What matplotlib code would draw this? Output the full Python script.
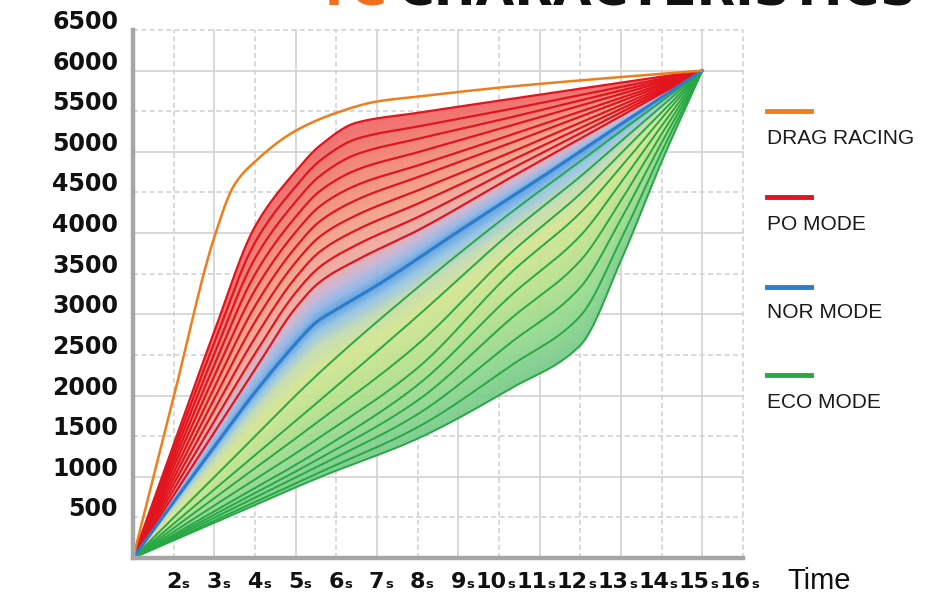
import numpy as np
import matplotlib
matplotlib.use("Agg")
import matplotlib.pyplot as plt
from matplotlib.lines import Line2D
from matplotlib.transforms import ScaledTranslation
from matplotlib.colors import LinearSegmentedColormap

# ---- data (x in seconds, y = output value) ----
Y_TICKS = [500, 1000, 1500, 2000, 2500, 3000, 3500, 4000, 4500, 5000, 5500, 6000, 6500]
X_TICKS = [2, 3, 4, 5, 6, 7, 8, 9, 10, 11, 12, 13, 14, 15, 16]

DRAG_X = [1, 2, 3, 3.5, 4, 5, 6, 7, 8, 10, 12, 15]
DRAG_Y = [0, 1980, 3950, 4600, 4880, 5260, 5480, 5620, 5680, 5790, 5880, 6000]

# PO mode lines, top (first) to bottom
PO_X = [1, 2, 3, 4, 5, 5.6, 6.5, 8, 10.3, 12, 15]
PO_LINES = [
    [0, 1395, 2790, 4080, 4760, 5078, 5360, 5480, 5652, 5778, 6000],
    [0, 1326, 2652, 3884, 4573, 4892, 5160, 5312, 5529, 5700, 6000],
    [0, 1257, 2514, 3689, 4387, 4705, 4971, 5160, 5426, 5634, 6000],
    [0, 1188, 2377, 3493, 4200, 4519, 4778, 4995, 5324, 5569, 6000],
    [0, 1120, 2239, 3298, 4013, 4332, 4590, 4832, 5210, 5497, 6000],
    [0, 1051, 2101, 3102, 3827, 4146, 4409, 4688, 5111, 5434, 6000],
    [0, 982, 1963, 2907, 3640, 3959, 4221, 4525, 4996, 5360, 6000],
    [0, 913, 1826, 2711, 3453, 3773, 4039, 4361, 4893, 5294, 6000],
    [0, 844, 1688, 2516, 3267, 3586, 3855, 4196, 4791, 5229, 6000],
    [0, 775, 1550, 2320, 3080, 3400, 3667, 4033, 4688, 5163, 6000],
]

NOR_X = [1, 2, 3, 4, 5, 5.5, 6, 7, 9, 11, 13, 15]
NOR_Y = [0, 690, 1370, 2040, 2640, 2900, 3060, 3357, 4020, 4672, 5342, 6000]

# ECO mode lines, top (first) to bottom
ECO_X = [1, 3, 5.6, 8, 10.3, 12, 13, 14, 15]
ECO_LINES = [
    [0, 995, 2287, 3330, 4255, 4885, 5259, 5623, 6000],
    [0, 845, 1943, 2980, 4010, 4697, 5131, 5561, 6000],
    [0, 738, 1697, 2630, 3760, 4484, 4983, 5487, 6000],
    [0, 647, 1488, 2340, 3515, 4250, 4815, 5414, 6000],
    [0, 577, 1328, 2130, 3235, 3967, 4623, 5320, 6000],
    [0, 535, 1230, 1940, 2950, 3660, 4401, 5221, 6000],
    [0, 497, 1143, 1770, 2655, 3332, 4172, 5115, 6000],
    [0, 460, 1057, 1610, 2370, 2979, 3922, 5000, 6000],
    [0, 433, 996, 1470, 2090, 2619, 3664, 4881, 6000],
]

LEGEND = ["DRAG RACING", "PO MODE", "NOR MODE", "ECO MODE"]
C_ORANGE = "#f07d1a"
C_RED = "#e2141e"
C_BLUE = "#2c7ccc"
C_GREEN = "#27a844"


def pchip(x, y, xn):
    """monotone cubic through the read points (just for smooth drawing)"""
    x = np.asarray(x, float)
    y = np.asarray(y, float)
    h = np.diff(x)
    d = np.diff(y) / h
    m = np.zeros_like(y)
    for i in range(1, len(x) - 1):
        if d[i - 1] * d[i] > 0:
            w1 = 2 * h[i] + h[i - 1]
            w2 = h[i] + 2 * h[i - 1]
            m[i] = (w1 + w2) / (w1 / d[i - 1] + w2 / d[i])
    m[0] = d[0]
    m[-1] = d[-1]
    k = np.clip(np.searchsorted(x, xn) - 1, 0, len(h) - 1)
    t = (xn - x[k]) / h[k]
    h00 = 2 * t**3 - 3 * t**2 + 1
    h10 = t**3 - 2 * t**2 + t
    h01 = -2 * t**3 + 3 * t**2
    h11 = t**3 - t**2
    return h00 * y[k] + h10 * h[k] * m[k] + h01 * y[k + 1] + h11 * h[k] * m[k + 1]


W, H = 937, 595
fig = plt.figure(figsize=(W / 100, H / 100), dpi=100)
ax = fig.add_axes([133 / W, 1 - 558 / H, 610 / W, 528 / H])

# grid: solid on whole thousands / odd seconds, dashed otherwise
for v in Y_TICKS:
    ax.axhline(v, color="#d2d2d2", lw=1.2, zorder=0, clip_on=False,
               ls="-" if v % 1000 == 0 else (0, (3, 2)))
for s in X_TICKS:
    ax.axvline(s, color="#d2d2d2", lw=1.2, zorder=0, clip_on=False,
               ls="-" if s % 2 == 1 else (0, (3, 2)))

# gradient fill between the PO top, NOR and ECO bottom curves
xs = np.linspace(1, 15, 900)
ys = np.linspace(0, 6500, 900)
top = pchip(PO_X, PO_LINES[0], xs)
mid = pchip(NOR_X, NOR_Y, xs)
bot = pchip(ECO_X, ECO_LINES[-1], xs)
Yg = ys[:, None]
up_cmap = LinearSegmentedColormap.from_list("up", [
    (0.0, "#5a9ee0"), (0.06, "#8fb6e6"), (0.14, "#c8b4d4"), (0.24, "#f0aaa0"),
    (0.45, "#f4a088"), (0.7, "#f28a78"), (1.0, "#f06a68")])
dn_cmap = LinearSegmentedColormap.from_list("dn", [
    (0.0, "#5a9ee0"), (0.07, "#94c4e4"), (0.17, "#c4dcb0"), (0.3, "#d4e692"),
    (0.55, "#b8e28c"), (0.8, "#94d890"), (1.0, "#78cc8c")])
img = np.zeros((len(ys), len(xs), 4))
tu = np.clip((Yg - mid) / np.maximum(top - mid, 1e-6), 0, 1)
td = np.clip((mid - Yg) / np.maximum(mid - bot, 1e-6), 0, 1)
up = (Yg >= mid) & (Yg <= top)
dn = (Yg < mid) & (Yg >= bot)
img[up] = up_cmap(tu[up])
img[dn] = dn_cmap(td[dn])
img[..., 3] *= 0.95
ax.imshow(img, extent=[1, 15, 0, 6500], origin="lower", aspect="auto",
          interpolation="bilinear", zorder=1)

xx = np.linspace(1, 15, 600)
for ys_ in ECO_LINES:
    ax.plot(xx, pchip(ECO_X, ys_, xx), color=C_GREEN, lw=1.4, zorder=2,
            solid_capstyle="round")
for ys_ in PO_LINES:
    ax.plot(xx, pchip(PO_X, ys_, xx), color=C_RED, lw=1.6, zorder=2,
            solid_capstyle="round")
ax.plot(xx, pchip(NOR_X, NOR_Y, xx), color=C_BLUE, lw=2.2, zorder=3)
ax.plot(xx, pchip(DRAG_X, DRAG_Y, xx), color=C_ORANGE, lw=1.8, zorder=3)

ax.set_xlim(1, 16)
ax.set_ylim(0, 6500)
ax.set_xticks([])
ax.set_yticks([])
for side in ["top", "right"]:
    ax.spines[side].set_visible(False)
for side in ["left", "bottom"]:
    ax.spines[side].set_color("#a6a6a6")
    ax.spines[side].set_linewidth(3.2)
    ax.spines[side].set_zorder(4)

# tick labels
ytr = ax.get_yaxis_transform() + ScaledTranslation(-0.15, 0.08, fig.dpi_scale_trans)
for v in Y_TICKS:
    ax.text(0, v, str(v), transform=ytr, ha="right", va="center",
            fontsize=17, fontweight="heavy", color="#111111")
xtr = ax.get_xaxis_transform() + ScaledTranslation(0.075, -0.30, fig.dpi_scale_trans)
str_ = ax.get_xaxis_transform() + ScaledTranslation(0.08, -0.30, fig.dpi_scale_trans)
for s in X_TICKS:
    ax.text(s, 0, str(s), transform=xtr, ha="right", va="baseline",
            fontsize=16, fontweight="heavy", color="#111111")
    ax.text(s, 0, "s", transform=str_, ha="left", va="baseline",
            fontsize=9.5, fontweight="heavy", color="#111111")

fig.text(787 / W, 1 - 589 / H, "Time", fontsize=21, family="Liberation Sans",
         va="baseline", color="#111111")

# legend on the right
leg_line_y = [111, 197, 287, 375]
leg_text_y = [138, 224, 313, 402]
for name, c, ly, ty in zip(LEGEND, [C_ORANGE, C_RED, C_BLUE, C_GREEN], leg_line_y, leg_text_y):
    fig.add_artist(Line2D([767 / W, 811 / W], [1 - ly / H, 1 - ly / H],
                          transform=fig.transFigure, color=c, lw=3.5))
    fig.text(767 / W, 1 - ty / H, name, fontsize=15, family="Liberation Sans",
             va="center", ha="left", color="#1a1a1a")

# title, cut off at the top edge like the reference
fig.text(317 / W, 1 - 5 / H, "TC", fontsize=36, fontweight="heavy",
         color="#f07020", va="baseline")
fig.text(398 / W, 1 - 5 / H, "CHARACTERISTICS", fontsize=36, fontweight="heavy",
         color="#111111", va="baseline")

fig.savefig("out.png", dpi=100)
